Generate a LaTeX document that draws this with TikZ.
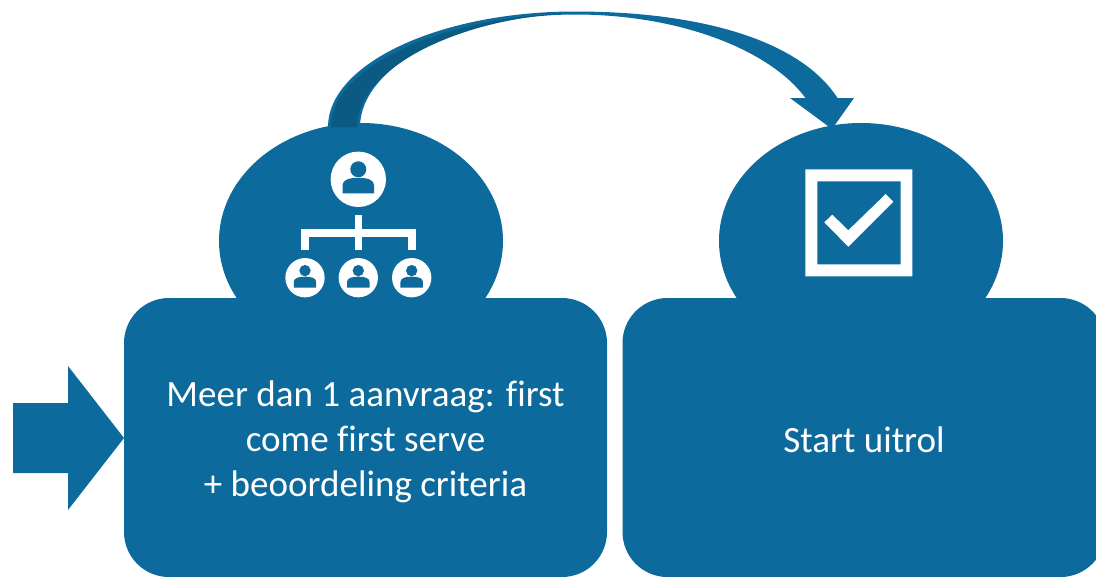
\documentclass[tikz,border=0pt]{standalone}
\usepackage{fontspec}
\setmainfont[Ligatures=NoCommon]{Carlito}
\definecolor{mainblue}{HTML}{0C6A9C}
\definecolor{darkblue}{HTML}{0B5A84}
\newcommand{\lineraise}[1]{\rule{0pt}{#1}}
\tikzset{
  lobe/.style={ellipse,fill=mainblue,inner sep=0pt,minimum width=284*0.75pt,minimum height=236*0.75pt},
  panel/.style={rectangle,fill=mainblue,rounded corners=33.75pt,inner sep=0pt,minimum width=483*0.75pt,minimum height=279*0.75pt,
    text=white,align=center,font=\fontsize{27.8}{33.75}\selectfont},
  person/.pic={
    \fill[white] (0,0) circle (27.7);
    \fill[mainblue] (0,-10) circle (8);
    \fill[mainblue] (-15.8,14) -- (-15.8,6) .. controls (-15.8,0.5) and (-9,-1.5) .. (0,-1.5)
      .. controls (9,-1.5) and (15.8,0.5) .. (15.8,6) -- (15.8,14) -- cycle;
  }
}
\usetikzlibrary{shapes.geometric}
\begin{document}
\begin{tikzpicture}[x=0.75pt,y=-0.75pt]
\useasboundingbox (0,0) rectangle (1096,576);
\clip (0,0) rectangle (1096,576);
% lobes
\node[lobe] (lobeA) at (361,241) {};
\node[lobe] (lobeB) at (861,241) {};
% curved arrow
\coordinate (tailO) at (328,127);
\coordinate (tailI) at (360,127);
\coordinate (top) at (575,11.5);
\coordinate (topI) at (575,14.5);
\coordinate (headL) at (790,98);
\coordinate (headR) at (854,98);
\coordinate (headT) at (832,129);
\coordinate (shaftI) at (805.5,98);
\coordinate (shaftO) at (837.5,98);
\fill[mainblue] (tailO) .. controls (328,64) and (439,11.5) .. (top)
  .. controls (700,11.5) and (800,40) .. (shaftO) -- (headR) -- (headT) -- (headL) -- (shaftI)
  .. controls (770,50) and (680,14.5) .. (topI)
  .. controls (457,14.5) and (360,67) .. (tailI) -- cycle;
\fill[darkblue] (331,127) .. controls (331,68) and (440,16) .. (575,13)
  .. controls (460,17) and (357,68) .. (357,127) -- cycle;
% panels
\node[panel] (panelA) at (365.5,437.5) {\lineraise{26.5pt}Meer dan 1 aanvraag: first\\come first serve\\+ beoordeling criteria};
\node[panel] (panelB) at (864,437.5) {\lineraise{22pt}Start uitrol};
% left arrow
\fill[mainblue] (13,403) -- (68,403) -- (68,366) -- (124,438) -- (68,510) -- (68,473) -- (13,473) -- cycle;
% org icon
\pic at (358.3,179.3) {person};
\pic[scale=0.71] at (305,277.7) {person};
\pic[scale=0.71] at (358.3,277.7) {person};
\pic[scale=0.71] at (411.7,277.7) {person};
\fill[white] (354.5,215) rectangle (362.2,250);
\fill[white] (301,229) rectangle (415.7,236.7);
\fill[white] (301,229) rectangle (309,250);
\fill[white] (408,229) rectangle (415.7,250);
% check icon
\fill[white,even odd rule] (805.3,169.3) rectangle (912.3,276.3) (817.3,181.3) rectangle (900.7,264.3);
\fill[white] (824.3,222.3) -- (832.3,214.7) -- (848.3,230.3) -- (885.7,194) -- (893.3,201.7) -- (848.3,246.7) -- cycle;
\end{tikzpicture}
\end{document}
